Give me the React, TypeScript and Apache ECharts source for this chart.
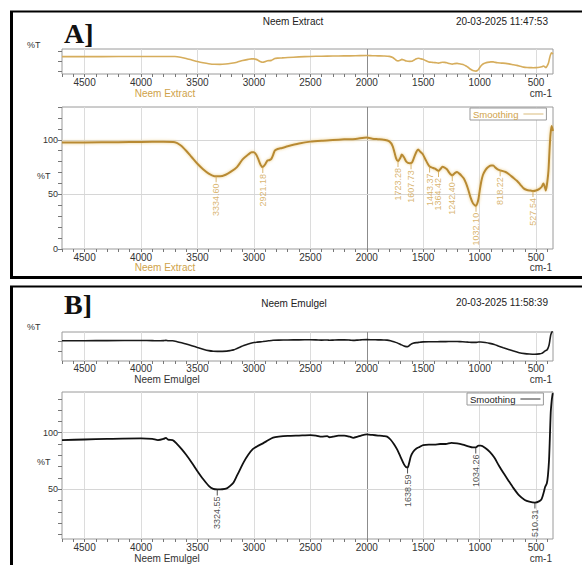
import React, { useEffect, useRef } from "react";
import * as echarts from "echarts";

// ---------- data ----------
const extractWavenumbers = [
  4700, 4500, 4200, 4000, 3800, 3700, 3650, 3600, 3550, 3500, 3450, 3400, 3350, 3300, 3250, 3200,
  3150, 3100, 3050, 3020, 3000, 2980, 2960, 2940, 2921, 2900, 2880, 2860, 2845, 2830, 2815, 2790,
  2750, 2700, 2600, 2500, 2400, 2300, 2200, 2100, 2000, 1950, 1900, 1850, 1800, 1770, 1740, 1723,
  1700, 1690, 1670, 1650, 1620, 1600, 1580, 1560, 1545, 1525, 1505, 1480, 1460, 1443, 1420, 1395,
  1364, 1345, 1330, 1310, 1290, 1270, 1250, 1242, 1220, 1200, 1180, 1160, 1140, 1120, 1100, 1080,
  1060, 1040, 1032, 1020, 1010, 1000, 985, 970, 950, 930, 900, 880, 860, 840, 818, 800,
  770, 740, 700, 670, 640, 610, 580, 550, 527, 500, 470, 450, 435, 420, 413, 400,
  390, 380, 372, 362, 355, 350,
];
const extractT = [
  97.5, 97.6, 97.8, 98.0, 98.2, 97.8, 95, 90, 84, 78, 73, 69, 66.7, 66.5, 68, 71,
  75, 82, 86.5, 88.5, 88.5, 86.5, 82, 77, 75, 77.5, 81, 81.5, 82.5, 86, 90, 91.5,
  92.5, 94, 96.5, 98.3, 99.2, 99.8, 100.4, 100.8, 102, 101, 100.5, 100, 98.5, 94, 83, 80.5,
  84, 86.5, 84, 80, 78.5, 79, 84, 89, 91, 89, 87, 82, 78, 75.5, 74.5, 73.5,
  71.5, 73.5, 75.2, 74.5, 73, 70, 67.8, 67.5, 69.5, 70.5, 69, 67, 64.5, 60, 54, 47,
  42, 39.8, 39.5, 42, 46, 53, 62, 68, 72, 74.5, 76.5, 76.5, 74.5, 73, 72, 71.5,
  70.5, 68.5, 65, 62.5, 59, 55.5, 54, 53.5, 53, 53.5, 55, 57, 60, 56, 53.5, 62,
  72, 92, 105, 112.5, 110, 108,
];

const emulgelWavenumbers = [
  4700, 4500, 4300, 4000, 3900, 3850, 3800, 3780, 3760, 3720, 3680, 3640, 3600, 3550, 3500, 3450,
  3400, 3360, 3324, 3280, 3240, 3210, 3180, 3150, 3120, 3090, 3050, 3010, 2970, 2920, 2870, 2830,
  2780, 2700, 2600, 2500, 2450, 2400, 2350, 2330, 2300, 2250, 2200, 2150, 2120, 2080, 2050, 2000,
  1950, 1900, 1850, 1820, 1790, 1760, 1730, 1700, 1670, 1650, 1638, 1625, 1610, 1590, 1560, 1530,
  1500, 1450, 1400, 1350, 1300, 1250, 1200, 1150, 1100, 1060, 1034, 1010, 990, 950, 910, 870,
  830, 790, 750, 700, 650, 600, 560, 510, 470, 450, 430, 420, 405, 395, 385, 378,
  370, 362, 357, 352,
];
const emulgelT = [
  93.5, 94, 94.5, 95, 94.5, 93.5, 94.5, 95.5, 93.8, 93.5, 90, 85.5, 80.5, 73.5, 66, 59,
  53, 50.3, 49.8, 50, 50.8, 53, 56, 62, 68, 74, 80.5, 85.5, 88, 90.6, 93.5, 95.6,
  96.5, 97.2, 97.5, 97.8, 97.5, 96.5, 97.0, 96, 96.5, 97.5, 97.5, 96.5, 95.5, 96.5, 97.5, 98.5,
  98, 97.5, 97, 96.5, 94, 90, 85, 78.5, 72, 69.5, 69.3, 73, 79, 83, 86, 87.5,
  89, 89.5, 89.5, 90, 90, 91, 90.5, 89.5, 88, 87, 87, 88.5, 88.5, 86.5, 83, 78,
  71, 64.5, 58.5, 51, 44.5, 40.5, 39, 38.2, 39.5, 41.5, 48, 52, 55, 62, 76, 95,
  118, 128, 132, 135,
];

const extractPeaks = [3334.6, 2921.18, 1723.28, 1607.73, 1443.37, 1364.42, 1242.4, 1032.1, 818.22, 527.54];
const extractPeakT = [66.5, 75, 80.5, 78.5, 75.5, 71.5, 67.5, 39.5, 72, 53];
const emulgelPeaks = [3324.55, 1638.59, 1034.26, 510.31];
const emulgelPeakT = [49.8, 69.3, 87, 38.2];

const xLabelValues = [4500, 4000, 3500, 3000, 2500, 2000, 1500, 1000, 500];
const xTickValues = [
  400, 500, 600, 700, 800, 900, 1000, 1100, 1200, 1300, 1400, 1500, 1600, 1700, 1800, 1900, 2000,
  2100, 2200, 2300, 2400, 2500, 2600, 2700, 2800, 2900, 3000, 3100, 3200, 3300, 3400, 3500, 3600,
  3700, 3800, 3900, 4000, 4100, 4200, 4300, 4400, 4500, 4600, 4700,
];
const mainATicksLabels = [0, 50, 100];
const mainBTicks = [10, 20, 30, 40, 50, 60, 70, 80, 90, 100, 110, 120, 130];
const mainBLabels = [50, 100];
const overviewATicks = [40, 80, 120];
const overviewBTicks = [50, 90];

const SANS = "'Liberation Sans', Arial, sans-serif";
const GOLD_LINE = "#b88a33";
const GOLD_TEXT = "#cfa24a";

function App() {
  const ref = useRef<HTMLDivElement>(null);

  useEffect(() => {
    if (!ref.current) return;
    const chart = echarts.init(ref.current, undefined, { renderer: "svg" });

    const zip = (xs: number[], ys: number[]) => xs.map((x, i) => [x, ys[i]]);
    const extractData = zip(extractWavenumbers, extractT);
    const emulgelData = zip(emulgelWavenumbers, emulgelT);

    const grids = [
      { left: 62, top: 49, width: 491, height: 25 },
      { left: 62, top: 107, width: 491, height: 142 },
      { left: 62, top: 332, width: 491, height: 29 },
      { left: 62, top: 392, width: 491, height: 147 },
    ].map((g) => ({ ...g, show: true, borderColor: "#9a9a9a", borderWidth: 1, backgroundColor: "#fff" }));

    const makeX = (gridIndex: number, margin: number) => ({
      type: "value",
      gridIndex,
      min: 350,
      max: 4700,
      inverse: true,
      axisLine: { show: false },
      splitLine: { show: false },
      axisTick: { show: true, customValues: xTickValues, length: 3, lineStyle: { color: "#777" } },
      axisLabel: {
        customValues: xLabelValues,
        fontSize: 10,
        color: "#333",
        margin,
        fontFamily: SANS,
        formatter: (v: number) => String(v),
      },
    });

    const yCommon = {
      type: "value",
      axisLine: { show: false },
      splitLine: { show: false },
    };

    const yAxes = [
      {
        ...yCommon,
        gridIndex: 0,
        min: 28,
        max: 128,
        axisTick: { show: true, customValues: overviewATicks, length: 4, lineStyle: { color: "#777" } },
        axisLabel: { show: false },
      },
      {
        ...yCommon,
        gridIndex: 1,
        min: 0,
        max: 130,
        interval: 10,
        axisTick: { show: true, length: 4, lineStyle: { color: "#777" } },
        axisLabel: {
          fontSize: 9,
          color: "#333",
          margin: 4,
          fontFamily: SANS,
          formatter: (v: number) => (mainATicksLabels.indexOf(v) >= 0 ? String(v) : ""),
        },
      },
      {
        ...yCommon,
        gridIndex: 2,
        min: 10,
        max: 130,
        axisTick: { show: true, customValues: overviewBTicks, length: 4, lineStyle: { color: "#777" } },
        axisLabel: { show: false },
      },
      {
        ...yCommon,
        gridIndex: 3,
        min: 6,
        max: 136,
        axisTick: { show: true, customValues: mainBTicks, length: 4, lineStyle: { color: "#777" } },
        axisLabel: { customValues: mainBLabels, fontSize: 9, color: "#333", margin: 4, fontFamily: SANS },
      },
    ];

    const gridLines = (withH: boolean) => ({
      silent: true,
      symbol: ["none", "none"],
      label: { show: false },
      emphasis: { disabled: true },
      animation: false,
      z: 1,
      data: [
        ...xLabelValues.map((v) => ({
          xAxis: v,
          lineStyle: { color: v === 2000 ? "#8c8c8c" : "#dcdcdc", width: 1, type: "solid" },
        })),
        ...(withH
          ? [50, 100].map((v) => ({ yAxis: v, lineStyle: { color: "#d6d6d6", width: 1, type: "solid" } }))
          : []),
      ],
    });

    const peakSeries = (idx: number, xs: number[], ys: number[], color: string) => ({
      type: "scatter",
      xAxisIndex: idx,
      yAxisIndex: idx,
      data: zip(xs, ys),
      symbol: "rect",
      symbolSize: [1, 6],
      symbolOffset: [0, 3],
      itemStyle: { color },
      silent: true,
      z: 3,
      label: {
        show: true,
        position: "bottom",
        distance: 1,
        rotate: 90,
        align: "right",
        verticalAlign: "middle",
        fontSize: 9,
        fontFamily: SANS,
        color,
        formatter: (p: any) => p.value[0].toFixed(2),
      },
    });

    const text = (t: string, x: number, y: number, o: any = {}) => ({
      type: "text",
      x,
      y,
      silent: true,
      style: {
        text: t,
        fontSize: 10,
        fontFamily: SANS,
        fill: "#222",
        align: "left",
        verticalAlign: "middle",
        ...o,
      },
    });
    const frame = (x1: number, y1: number, x2: number, y2: number, w: number) => ({
      type: "line",
      silent: true,
      shape: { x1, y1, x2, y2 },
      style: { stroke: "#000", lineWidth: w },
    });

    const legendBase = {
      orient: "horizontal",
      align: "right",
      icon: "rect",
      itemWidth: 20,
      itemHeight: 1,
      padding: [1, 3, 1, 3],
      borderColor: "#999",
      borderWidth: 1,
      backgroundColor: "#fff",
      selectedMode: false,
      formatter: () => "Smoothing",
    };

    chart.setOption({
      animation: false,
      backgroundColor: "#fff",
      grid: grids,
      xAxis: [makeX(0, 3), makeX(1, 3), makeX(2, 2), makeX(3, 3)],
      yAxis: yAxes,
      legend: [
        {
          ...legendBase,
          data: ["SmoothingA"],
          left: 470,
          top: 108,
          textStyle: { color: GOLD_TEXT, fontSize: 9.5, fontFamily: SANS, lineHeight: 10 },
        },
        {
          ...legendBase,
          data: ["SmoothingB"],
          left: 467,
          top: 393,
          textStyle: { color: "#222", fontSize: 9.5, fontFamily: SANS, lineHeight: 10 },
        },
      ],
      series: [
        {
          name: "overviewA",
          type: "line",
          xAxisIndex: 0,
          yAxisIndex: 0,
          data: extractData,
          smooth: 0.25,
          showSymbol: false,
          silent: true,
          z: 2,
          lineStyle: { color: "#d6ad5c", width: 1.6 },
          markLine: gridLines(false),
        },
        {
          name: "SmoothingA",
          type: "line",
          xAxisIndex: 1,
          yAxisIndex: 1,
          data: extractData,
          smooth: 0.25,
          showSymbol: false,
          silent: true,
          z: 2,
          itemStyle: { color: "#d9bb7a" },
          lineStyle: { color: GOLD_LINE, width: 2, shadowColor: "rgba(235,200,120,0.9)", shadowBlur: 3 },
          markLine: gridLines(true),
        },
        peakSeries(1, extractPeaks, extractPeakT, GOLD_TEXT),
        {
          name: "overviewB",
          type: "line",
          xAxisIndex: 2,
          yAxisIndex: 2,
          data: emulgelData,
          smooth: 0.25,
          showSymbol: false,
          silent: true,
          z: 2,
          lineStyle: { color: "#1a1a1a", width: 1.6 },
          markLine: gridLines(false),
        },
        {
          name: "SmoothingB",
          type: "line",
          xAxisIndex: 3,
          yAxisIndex: 3,
          data: emulgelData,
          smooth: 0.25,
          showSymbol: false,
          silent: true,
          z: 2,
          itemStyle: { color: "#333" },
          lineStyle: { color: "#111", width: 1.8 },
          markLine: gridLines(true),
        },
        peakSeries(3, emulgelPeaks, emulgelPeakT, "#222"),
      ],
      graphic: [
        // frames
        frame(10, 11.5, 582, 11.5, 2),
        frame(11.5, 11, 11.5, 278.5, 3),
        frame(10, 277.5, 582, 277.5, 3),
        frame(10, 286.5, 582, 286.5, 2),
        frame(11.5, 286, 11.5, 565, 3),
        // panel A texts
        text("A]", 64, 33, { fontSize: 28, fontWeight: "bold", fontFamily: "'Liberation Serif', 'Times New Roman', serif", fill: "#111" }),
        text("Neem Extract", 293, 21, { align: "center", fontSize: 10 }),
        text("20-03-2025 11:47:53", 548, 21, { align: "right", fontSize: 10 }),
        text("%T", 27, 45, { fontSize: 9, fill: "#333" }),
        text("Neem Extract", 165, 93, { align: "center", fill: GOLD_TEXT }),
        text("cm-1", 552, 93, { align: "right", fill: "#333" }),
        text("%T", 37, 176, { fontSize: 9, fill: "#333" }),
        text("Neem Extract", 165, 267, { align: "center", fill: GOLD_TEXT }),
        text("cm-1", 552, 267, { align: "right", fill: "#333" }),
        // panel B texts
        text("B]", 64, 304, { fontSize: 28, fontWeight: "bold", fontFamily: "'Liberation Serif', 'Times New Roman', serif", fill: "#111" }),
        text("Neem Emulgel", 294, 303, { align: "center", fontSize: 10 }),
        text("20-03-2025 11:58:39", 548, 302, { align: "right", fontSize: 10 }),
        text("%T", 27, 327, { fontSize: 9, fill: "#333" }),
        text("Neem Emulgel", 167, 379, { align: "center", fill: "#333" }),
        text("cm-1", 552, 379, { align: "right", fill: "#333" }),
        text("%T", 37, 462, { fontSize: 9, fill: "#333" }),
        text("Neem Emulgel", 167, 558, { align: "center", fill: "#333" }),
        text("cm-1", 552, 558, { align: "right", fill: "#333" }),
      ],
    });

    return () => chart.dispose();
  }, []);

  return (
    <div
      ref={ref}
      style={{ position: "absolute", left: 0, top: 0, width: 582, height: 565, background: "#fff" }}
    />
  );
}

export default App;
